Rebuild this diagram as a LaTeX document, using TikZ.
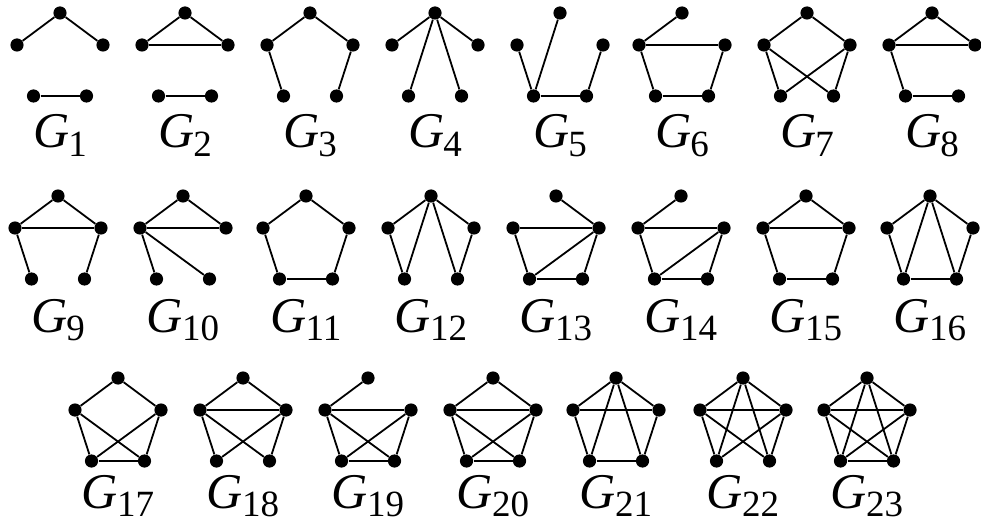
\documentclass[tikz,border=0pt]{standalone}
\usepackage{fontspec}
\setmainfont{Liberation Serif}
\tikzset{
  vtx/.style={circle,fill=black,inner sep=0pt,minimum size=6.6pt},
  edge/.style={line width=0.9pt,black},
  lab/.style={anchor=base,inner sep=0pt}
}
\newcommand{\glab}[1]{\fontsize{25}{25}\selectfont\textit{G}\kern-0.5pt\raisebox{-4.2pt}{\fontsize{18.5}{18.5}\selectfont #1}}
\newcommand{\gph}[6]{%
  \node[vtx] (#1T) at (#2,#3) {};
  \node[vtx] (#1L) at ({#2-43},{#3+32}) {};
  \node[vtx] (#1R) at ({#2+43},{#3+32}) {};
  \node[vtx] (#1A) at ({#2-26.5},{#3+83}) {};
  \node[vtx] (#1B) at ({#2+26.5},{#3+83}) {};
  \foreach \u/\v in {#4} {\draw[edge] (#1\u) -- (#1\v);}
  \node[lab] (#1lab) at (#2,#6) {\glab{#5}};
}
\begin{document}
\begin{tikzpicture}[x=0.5pt,y=-0.5pt]
\useasboundingbox (0,0) rectangle (981,524);
% row 1
\gph{ga}{60}{13}{T/L,T/R,A/B}{1}{148}
\gph{gb}{185}{13}{T/L,T/R,L/R,A/B}{2}{148}
\gph{gc}{310}{13}{T/L,T/R,L/A,R/B}{3}{148}
\gph{gd}{435}{13}{T/L,T/R,T/A,T/B}{4}{148}
\gph{ge}{560}{13}{T/A,L/A,A/B,B/R}{5}{148}
\gph{gf}{682}{13}{T/L,L/R,L/A,A/B,B/R}{6}{148}
\gph{gg}{807}{13}{T/L,T/R,L/A,R/B,L/B,R/A}{7}{148}
\gph{gh}{932}{13}{T/L,T/R,L/R,L/A,A/B}{8}{148}
% row 2
\gph{gi}{58}{196}{T/L,T/R,L/R,L/A,R/B}{9}{332}
\gph{gj}{183}{196}{T/L,T/R,L/R,L/A,L/B}{10}{332}
\gph{gk}{306}{196}{T/L,T/R,L/A,A/B,B/R}{11}{332}
\gph{gl}{431}{196}{T/L,T/R,L/A,R/B,T/A,T/B}{12}{332}
\gph{gm}{556}{196}{T/R,L/R,L/A,A/B,B/R,R/A}{13}{332}
\gph{gn}{681}{196}{T/L,L/R,L/A,A/B,B/R,R/A}{14}{332}
\gph{go}{806}{196}{T/L,T/R,L/R,L/A,A/B,B/R}{15}{332}
\gph{gp}{930}{196}{T/L,T/R,L/A,R/B,T/A,T/B,A/B}{16}{332}
% row 3
\gph{gq}{118}{378}{T/L,T/R,L/A,R/B,A/B,L/B,R/A}{17}{508}
\gph{gr}{243}{378}{T/L,T/R,L/R,L/A,R/B,L/B,R/A}{18}{508}
\gph{gs}{368}{378}{T/L,L/R,L/A,R/B,A/B,L/B,R/A}{19}{508}
\gph{gt}{493}{378}{T/L,T/R,L/R,L/A,R/B,A/B,L/B,R/A}{20}{508}
\gph{gu}{616}{378}{T/L,T/R,L/R,L/A,R/B,A/B,T/A,T/B}{21}{508}
\gph{gv}{743}{378}{T/L,T/R,L/R,L/A,R/B,T/A,T/B,L/B,R/A}{22}{508}
\gph{gw}{867}{378}{T/L,T/R,L/R,L/A,R/B,A/B,T/A,T/B,L/B,R/A}{23}{508}
\end{tikzpicture}
\end{document}
